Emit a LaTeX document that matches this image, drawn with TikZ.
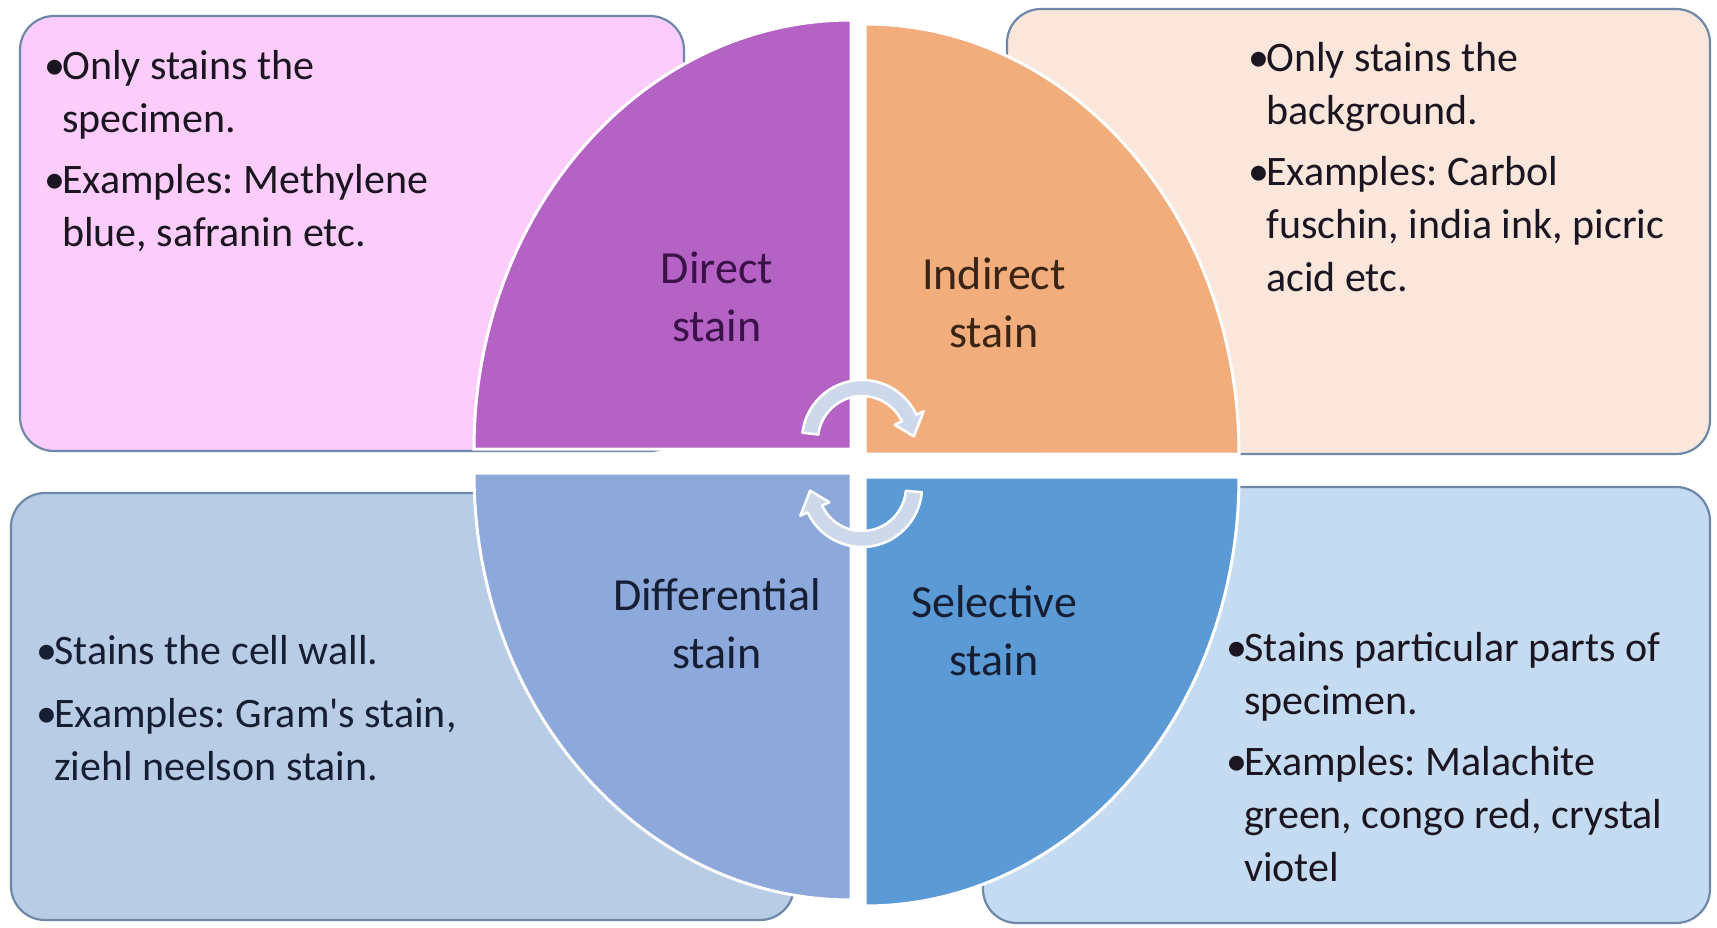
\documentclass[tikz,border=0pt]{standalone}
\usepackage{fontspec}
\setmainfont{Carlito}
\frenchspacing
\definecolor{tlfill}{HTML}{FCCDFB}
\definecolor{trfill}{HTML}{FBE6DB}
\definecolor{blfill}{HTML}{B9CCE6}
\definecolor{brfill}{HTML}{C5DBF1}
\definecolor{boxline}{HTML}{6F88A8}
\definecolor{qdirect}{HTML}{B562C5}
\definecolor{qindirect}{HTML}{F2AD7D}
\definecolor{qdiff}{HTML}{8DA8DB}
\definecolor{qsel}{HTML}{5C9AD6}
\definecolor{arrowfill}{HTML}{CDD8EA}
\definecolor{txtdark}{HTML}{1A1520}
\definecolor{txtnavy}{HTML}{161E33}
\definecolor{lbldirect}{HTML}{3A1248}
\definecolor{lblindirect}{HTML}{3A2414}
\newcommand{\mybul}{\makebox[18pt][l]{\textbullet}}
\newcommand{\mybulind}{\hspace*{18pt}}
\tikzset{
  infobox/.style={draw=boxline, line width=2.2pt, rounded corners=34pt, inner sep=0pt},
  quad/.style={draw=white, line width=3pt},
  cyclearrow/.style={fill=arrowfill, draw=white, line width=2.5pt, line join=round},
  boxtext/.style={anchor=north west, inner sep=0pt, align=left, font=\fontsize{42}{53}\selectfont},
  quadlabel/.style={align=center, inner sep=0pt, font=\fontsize{46}{58}\selectfont},
}
\begin{document}
\begin{tikzpicture}[x=1pt,y=-1pt]
\useasboundingbox[fill=white] (0,0) rectangle (1717,927);
% info boxes
\node[infobox, fill=tlfill, minimum width=664pt, minimum height=435pt] (tl) at (352,233.5) {};
\node[infobox, fill=trfill, minimum width=703pt, minimum height=445pt] (tr) at (1358.5,231.5) {};
\node[infobox, fill=blfill, minimum width=783pt, minimum height=427pt] (bl) at (402.5,706.5) {};
\node[infobox, fill=brfill, minimum width=727pt, minimum height=436pt] (br) at (1346.5,705) {};
% quadrants
\path[quad, fill=qdirect] (851,449) -- (474,449) arc[start angle=180, end angle=270, x radius=377, y radius=429] -- cycle;
\path[quad, fill=qindirect] (865,454) -- (865,24) arc[start angle=270, end angle=360, x radius=374, y radius=430] -- cycle;
\path[quad, fill=qdiff] (851,473) -- (851,900) arc[start angle=90, end angle=180, x radius=377, y radius=427] -- cycle;
\path[quad, fill=qsel] (865,477) -- (1239,477) arc[start angle=0, end angle=90, x radius=374, y radius=429] -- cycle;
% cycle arrows
\begin{scope}[shift={(862,440)}]
\path[cyclearrow] (187:60) arc[start angle=187, end angle=335, radius=60] -- (335:68) -- (356:52) -- (335:36) -- (335:44) arc[start angle=335, end angle=187, radius=44] -- cycle;
\end{scope}
\begin{scope}[shift={(862,487)}]
\path[cyclearrow] (5:60) arc[start angle=5, end angle=155, radius=60] -- (155:68) -- (176:52) -- (155:36) -- (155:44) arc[start angle=155, end angle=5, radius=44] -- cycle;
\end{scope}
% quadrant labels
\node[quadlabel, text=lbldirect] (ldirect) at (717,297) {Direct\\stain};
\node[quadlabel, text=lblindirect] (lindirect) at (994,303) {Indirect\\stain};
\node[quadlabel, text=txtnavy] (ldiff) at (717,624) {Differential\\stain};
\node[quadlabel, text=txtnavy] (lsel) at (994,631) {Selective\\stain};
% box texts
\node[boxtext, text=txtdark] (ttl) at (44,50) {\mybul Only stains the\\ \mybulind specimen.\\[8pt] \mybul Examples: Methylene\\ \mybulind blue, safranin etc.};
\node[boxtext, text=txtdark] (ttr) at (1248,42) {\mybul Only stains the\\ \mybulind background.\\[8pt] \mybul Examples: Carbol\\ \mybulind fuschin, india ink, picric\\ \mybulind acid etc.};
\node[boxtext, text=txtnavy] (tbl) at (36,635) {\mybul Stains the cell wall.\\[10pt] \mybul Examples: Gram\textquotesingle s stain,\\ \mybulind ziehl neelson stain.};
\node[boxtext, text=txtdark] (tbr) at (1226,632) {\mybul Stains particular parts of\\ \mybulind specimen.\\[8pt] \mybul Examples: Malachite\\ \mybulind green, congo red, crystal\\ \mybulind viotel};
\end{tikzpicture}
\end{document}
